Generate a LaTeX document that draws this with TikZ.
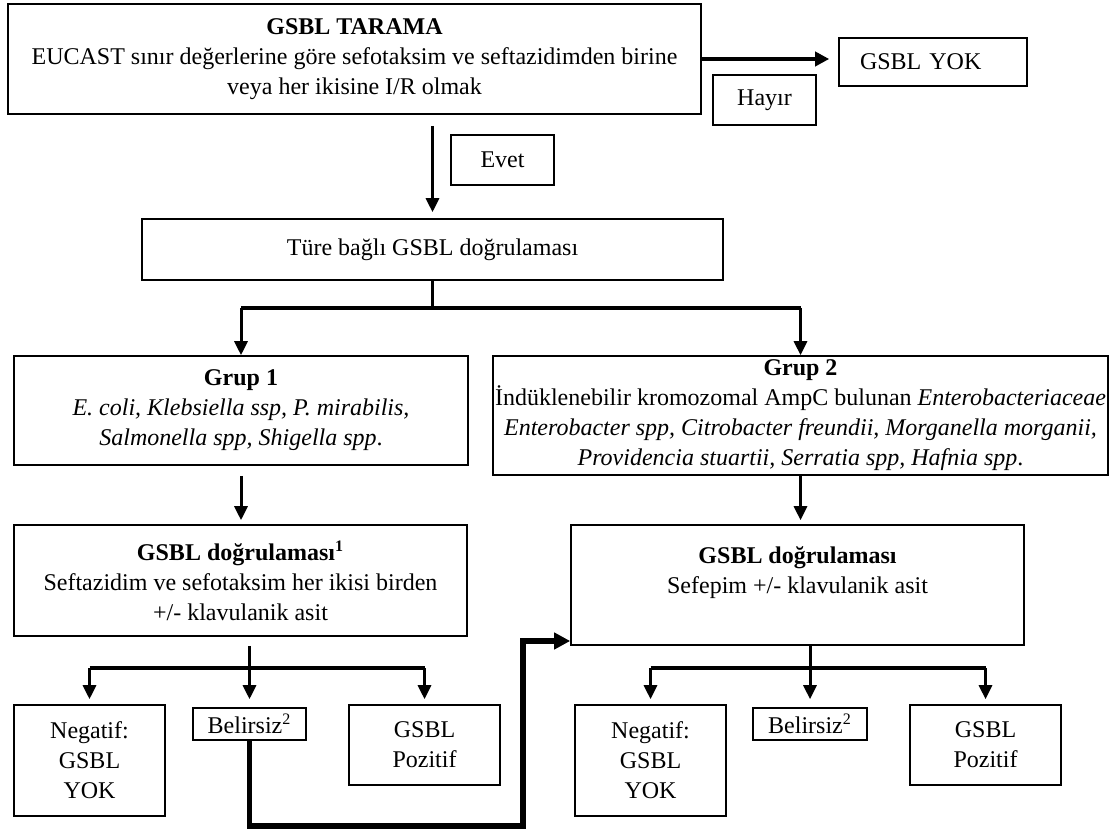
\documentclass[tikz,border=0pt]{standalone}
\usepackage{fontspec}
\setmainfont{Liberation Serif}
\usetikzlibrary{arrows.meta}

\begin{document}
\begin{tikzpicture}[x=0.5pt,y=-0.5pt,
  box/.style={draw, line width=0.8pt, align=center, font=\fontsize{12}{15}\selectfont, inner sep=2pt},
  arr/.style={line width=1.5pt, -{Triangle[length=7pt,width=6.5pt]}},
  bigarr/.style={line width=2.2pt, -{Triangle[length=7pt,width=7pt]}},
  branch/.style={line width=1.8pt},
  donus/.style={line width=2.8pt, -{Triangle[length=8pt,width=8pt]}}]
\useasboundingbox (0,0) rectangle (1117,833);

% top part
\node[box, minimum width=346.5pt, minimum height=55pt] (tarama) at (354.5,59) {\textbf{GSBL TARAMA}\\EUCAST sınır değerlerine göre sefotaksim ve seftazidimden birine\\veya her ikisine I/R olmak};
\node[box, text width=73pt, align=left, inner xsep=10.5pt, minimum height=24pt] (yok) at (933,62) {GSBL YOK};
\node[box, minimum width=51.5pt, minimum height=25pt] (hayir) at (764.5,100) {Hayır};
\node[box, minimum width=51.5pt, minimum height=25pt] (evet) at (502.5,160) {Evet};
\node[box, minimum width=290.5pt, minimum height=30.5pt] (ture) at (432.5,249.5) {Türe bağlı GSBL doğrulaması};

% groups
\node[box, minimum width=227pt, minimum height=54.5pt] (grup1) at (241,410.5) {\textbf{Grup 1}\\\textit{E. coli, Klebsiella ssp, P. mirabilis,}\\\textit{Salmonella spp, Shigella spp}.};
\node[box, inner xsep=1pt, minimum width=306.5pt, minimum height=58.5pt] (grup2) at (800.5,415.5) {\textbf{Grup 2}\\İndüklenebilir kromozomal AmpC bulunan \textit{Enterobacteriaceae}\\\textit{Enterobacter spp, Citrobacter freundii, Morganella morganii,}\\\textit{Providencia stuartii, Serratia spp, Hafnia spp}.};

% confirmation
\node[box, minimum width=226.5pt, minimum height=55.5pt] (dog1) at (240.5,580.5) {\textbf{GSBL doğrulaması\textsuperscript{1}}\\Seftazidim ve sefotaksim her ikisi birden\\+/- klavulanik asit};
\node[box, minimum width=226.5pt, minimum height=60pt] (dog2) at (797.5,585) {\textbf{GSBL doğrulaması}\\Sefepim +/- klavulanik asit\\\mbox{}};

% results
\node[box, minimum width=75.5pt, minimum height=55.5pt] (neg1) at (89.5,760.5) {Negatif:\\GSBL\\YOK};
\node[box, inner sep=1pt, minimum width=56.5pt, minimum height=16pt] (bel1) at (249.5,724) {Belirsiz\textsuperscript{2}};
\node[box, minimum width=75.5pt, minimum height=40pt] (poz1) at (424.5,745) {GSBL\\Pozitif};
\node[box, minimum width=75.5pt, minimum height=55.5pt] (neg2) at (650.5,760.5) {Negatif:\\GSBL\\YOK};
\node[box, inner sep=1pt, minimum width=57pt, minimum height=16pt] (bel2) at (810,724) {Belirsiz\textsuperscript{2}};
\node[box, minimum width=75.5pt, minimum height=40pt] (poz2) at (985.5,745) {GSBL\\Pozitif};

% arrows
\draw[bigarr, shorten >=4.5pt] (tarama.east) -- (tarama.east -| yok.west);
\draw[arr, shorten <=5.5pt, shorten >=3pt] (ture.north |- tarama.south) -- (ture.north);

\draw[branch] (ture.south) -- ++(0,27) coordinate (b1);
\draw[branch] (grup1.north |- b1) -- (grup2.north |- b1);
\draw[arr] (grup1.north |- b1) -- (grup1.north);
\draw[arr] (grup2.north |- b1) -- (grup2.north);

\draw[arr, shorten <=5pt, shorten >=2pt] (grup1.south) -- (grup1.south |- dog1.north);
\draw[arr, shorten <=0pt, shorten >=2pt] (grup2.south) -- (grup2.south |- dog2.north);

\path (bel1.north) ++(0,-39) coordinate (a1);
\draw[arr, shorten <=4.5pt, shorten >=4pt] (bel1.north |- dog1.south) -- (bel1.north);
\draw[branch] (neg1.north |- a1) -- (poz1.north |- a1);
\draw[arr, shorten >=2.5pt] (neg1.north |- a1) -- (neg1.north);
\draw[arr, shorten >=2.5pt] (poz1.north |- a1) -- (poz1.north);

\path (bel2.north) ++(0,-39) coordinate (a2);
\draw[arr, shorten >=4pt] (bel2.north |- dog2.south) -- (bel2.north);
\draw[branch] (neg2.north |- a2) -- (poz2.north |- a2);
\draw[arr, shorten >=2.5pt] (neg2.north |- a2) -- (neg2.north);
\draw[arr, shorten >=2.5pt] (poz2.north |- a2) -- (poz2.north);

% Belirsiz -> Grup 2 test
\coordinate (alt) at (523,826);
\coordinate (kose) at (523,641);
\draw[donus] (bel1.south) -- (bel1.south |- alt) -- (alt) -- (kose) -- (dog2.south west |- kose);
\end{tikzpicture}
\end{document}
